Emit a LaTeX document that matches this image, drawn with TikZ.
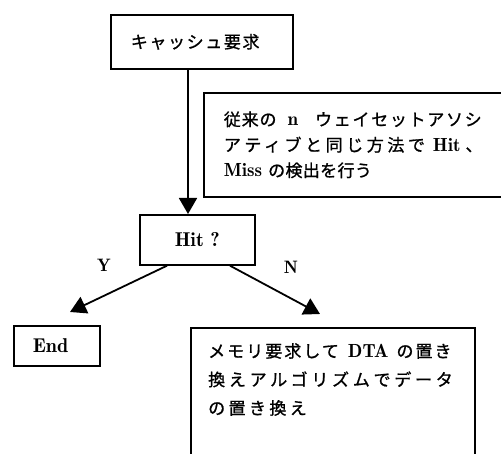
\documentclass[tikz,border=0pt]{standalone}
\usepackage{fontspec}
\newfontfamily\jp{Noto Sans CJK JP}[FakeBold=1]
\newfontfamily\lat{lmromandemi10-regular.otf}
\usetikzlibrary{arrows.meta,calc}
\newcommand\ls[2]{{\addfontfeatures{LetterSpace=#1}#2}}
\newcommand\la[1]{{\lat\fontsize{19}{23}\selectfont #1}}
\tikzset{
  boxline/.style={draw=black, line width=1.7pt},
  jptext/.style={align=left, inner sep=0pt},
  lattext/.style={font=\lat\fontsize{20}{24}\selectfont},
  arr/.style={line width=1.8pt, -{Triangle[length=16pt,width=18pt]}},
}
\begin{document}
\begin{tikzpicture}[x=1pt,y=-1pt]
\useasboundingbox[fill=white] (0,0) rectangle (501,454);
% top request box
\node[boxline, anchor=north west, minimum width=182pt, minimum height=54pt,
      inner xsep=20pt, text width=142pt, align=left,
      font=\jp\fontsize{17}{20}\selectfont] (req) at (110,14)
      {\ls{9.5}{キャッシュ要求}};
% note box (open to the right)
\node[boxline, anchor=north west, minimum height=104pt, inner xsep=20pt,
      text width=262pt, align=left,
      font=\jp\fontsize{17}{25.5}\selectfont] (note) at (203,92)
      {\ls{5}{従来の}\hspace{11pt}\la{n}\hspace{17pt}\ls{10}{ウェイセットアソシ}\\
       \ls{21}{アティブと同じ方法で}\hspace{8pt}\la{Hit}\hspace{5pt}、\\
       \la{Miss}\hspace{6pt}\ls{2}{の検出を行う}};
% decision box
\node[boxline, anchor=north west, minimum width=115pt, minimum height=50pt,
      lattext] (hit) at (139,214) {Hit ?};
% end box
\node[boxline, anchor=north west, minimum width=86pt, minimum height=40pt,
      inner xsep=19pt, text width=48pt, align=left, lattext] (end) at (13,325) {End};
% memory box (open at the bottom)
\node[boxline, anchor=north west, minimum width=284pt, minimum height=140pt,
      inner sep=0pt] (mem) at (190,327) {};
\node[jptext, anchor=north west, font=\jp\fontsize{17}{28.5}\selectfont] (memtext)
      at ($(mem.north west)+(18,16)$)
      {\ls{12}{メモリ要求して}\hspace{9pt}\la{DTA}\hspace{8pt}\ls{12}{の置き}\\
       \ls{22}{換えアルゴリズムでデータ}\\
       \ls{20}{の置き換え}};
% labels
\node[font=\lat\fontsize{18}{22}\selectfont] (ylab) at (104,265) {Y};
\node[font=\lat\fontsize{18}{22}\selectfont] (nlab) at (291,267) {N};
% connectors
\coordinate (ytip) at (70,312);
\coordinate (ntip) at (320,314);
\draw[arr] ($(req.south west)+(78,0)$) -- ($(hit.north west)+(49,0)$);
\draw[arr] ($(hit.south west)+(28,0)$) -- (ytip);
\draw[arr] ($(hit.south west)+(91,0)$) -- (ntip);
\end{tikzpicture}
\end{document}
